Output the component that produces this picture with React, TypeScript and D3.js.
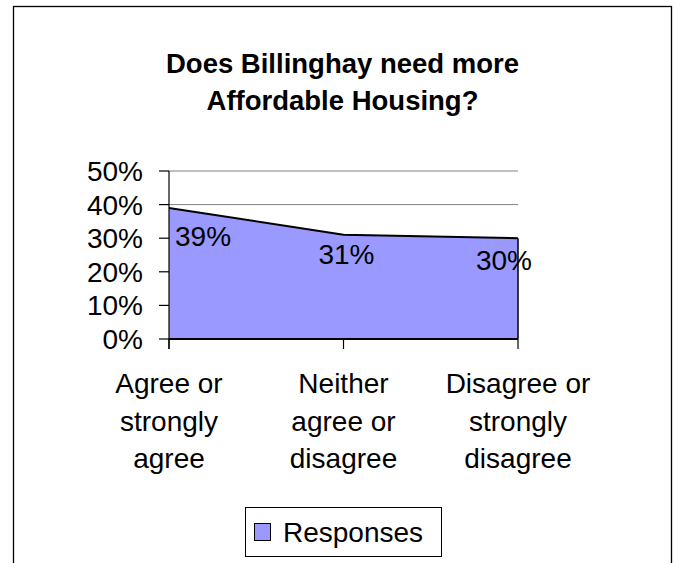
import React from 'react'
import * as d3 from 'd3'

const title = ['Does Billinghay need more', 'Affordable Housing?']
const categories = ['Agree or strongly agree', 'Neither agree or disagree', 'Disagree or strongly disagree']
const categoryLines = [
  ['Agree or', 'strongly', 'agree'],
  ['Neither', 'agree or', 'disagree'],
  ['Disagree or', 'strongly', 'disagree'],
]
const responses = [0.39, 0.31, 0.30]
const valueLabels = ['39%', '31%', '30%']
const yTicks = [0, 0.1, 0.2, 0.3, 0.4, 0.5]
const seriesName = 'Responses'

// label nudges, roughly where Excel put them
const labelNudge = [
  { dx: 6, dy: 28, anchor: 'start' },
  { dx: 3, dy: 19, anchor: 'middle' },
  { dx: -14, dy: 22, anchor: 'middle' },
]

const FONT = 'Liberation Sans, Arial, sans-serif'
const FILL = '#9999ff'

export default function App() {
  const width = 675
  const height = 563
  const plot = { left: 169, right: 518, top: 171, bottom: 339 }

  const x = d3.scalePoint<string>().domain(categories).range([plot.left, plot.right])
  const y = d3.scaleLinear().domain([0, 0.5]).range([plot.bottom, plot.top])

  const pts = categories.map((c, i) => ({ c, v: responses[i] }))

  const area = d3.area<{ c: string; v: number }>()
    .x(d => x(d.c)!)
    .y0(y(0))
    .y1(d => y(d.v))

  const topLine = d3.line<{ c: string; v: number }>()
    .x(d => x(d.c)!)
    .y(d => y(d.v))

  const last = pts[pts.length - 1]

  return (
    <svg
      width={width}
      height={height}
      style={{ position: 'absolute', left: 0, top: 0, background: '#fff' }}
      fontFamily={FONT}
    >
      <rect x={0} y={0} width={width} height={height} fill="#fff" />
      {/* outer chart border, bottom runs off the picture */}
      <rect x={13.5} y={6.5} width={658} height={600} fill="none" stroke="#000" strokeWidth={1.3} />

      {title.map((t, i) => (
        <text key={t} x={342.5} y={73 + i * 37} textAnchor="middle" fontSize={27.5} fontWeight="bold">
          {t}
        </text>
      ))}

      {/* gridlines */}
      {yTicks.filter(t => t > 0).map(t => (
        <line key={t} x1={plot.left} x2={plot.right} y1={y(t)} y2={y(t)} stroke="#808080" strokeWidth={1} />
      ))}

      {/* area */}
      <path d={area(pts)!} fill={FILL} />
      <path d={topLine(pts)!} fill="none" stroke="#000" strokeWidth={2} />
      <line x1={x(last.c)!} x2={x(last.c)!} y1={y(last.v)} y2={y(0)} stroke="#000" strokeWidth={1.5} />

      {/* y axis */}
      <line x1={plot.left} x2={plot.left} y1={plot.top} y2={plot.bottom + 10} stroke="#000" strokeWidth={1.2} />
      {yTicks.map(t => (
        <g key={t}>
          <line x1={plot.left - 10} x2={plot.left} y1={y(t)} y2={y(t)} stroke="#000" strokeWidth={1.2} />
          <text x={143} y={y(t) + 10} textAnchor="end" fontSize={28}>
            {d3.format('.0%')(t)}
          </text>
        </g>
      ))}

      {/* x axis */}
      <line x1={plot.left} x2={plot.right} y1={y(0)} y2={y(0)} stroke="#000" strokeWidth={2} />
      {categories.map((c, i) => (
        <g key={c}>
          <line x1={x(c)!} x2={x(c)!} y1={y(0)} y2={y(0) + 10} stroke="#000" strokeWidth={1.2} />
          {categoryLines[i].map((ln, j) => (
            <text key={j} x={x(c)!} y={393 + j * 37.5} textAnchor="middle" fontSize={28}>
              {ln}
            </text>
          ))}
        </g>
      ))}

      {/* data labels */}
      {pts.map((d, i) => (
        <text
          key={d.c}
          x={x(d.c)! + labelNudge[i].dx}
          y={y(d.v) + labelNudge[i].dy + 10}
          textAnchor={labelNudge[i].anchor}
          fontSize={28}
        >
          {valueLabels[i]}
        </text>
      ))}

      {/* legend */}
      <rect x={245.5} y={507.5} width={196} height={49} fill="#fff" stroke="#000" strokeWidth={1} />
      <rect x={254.5} y={523.5} width={16} height={17} fill={FILL} stroke="#000" strokeWidth={1} />
      <text x={283} y={542} fontSize={28}>{seriesName}</text>
    </svg>
  )
}
